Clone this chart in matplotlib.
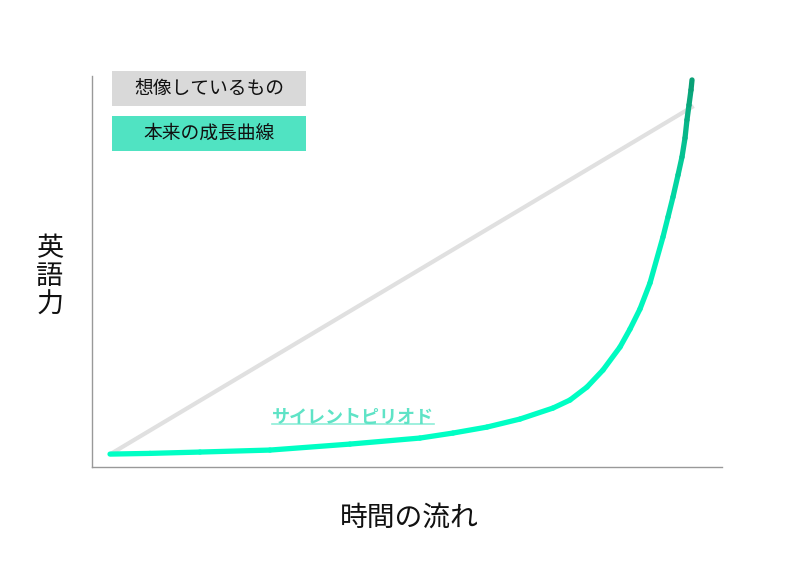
import matplotlib.pyplot as plt
import numpy as np
from matplotlib.collections import LineCollection
from matplotlib.colors import LinearSegmentedColormap
from matplotlib.patches import Rectangle

plt.rcParams['font.family'] = ['Noto Sans CJK JP', 'DejaVu Sans']

# data (time 0-100, skill 0-100)
imagined_x = [2.9, 95.5]
imagined_y = [3.3, 92.3]

real_x = [2.86, 9.2, 17.14, 28.25, 40.95, 52.06, 57.30, 62.70, 67.94, 73.17,
          75.87, 78.57, 81.11, 83.81, 85.40, 86.98, 88.57, 90.63, 91.43,
          92.22, 93.02, 93.65, 94.13, 94.44, 94.76, 95.08, 95.24]
real_y = [3.32, 3.5, 3.84, 4.35, 5.88, 7.42, 8.70, 10.23, 12.28, 15.09,
          17.14, 20.46, 24.81, 30.69, 35.29, 40.41, 47.06, 58.82, 63.94,
          69.05, 74.68, 79.28, 84.14, 88.75, 92.58, 96.42, 98.98]

legend_labels = ['想像しているもの', '本来の成長曲線']
legend_colors = ['#d9d9d9', '#50e3c2']
period_label = 'サイレントピリオド'
x_label = '時間の流れ'
y_label = '英語力'

fig = plt.figure(figsize=(8, 5.71), dpi=100)
ax = fig.add_axes([0.115, 0.182, 0.7875, 0.685])
ax.set_xlim(0, 100)
ax.set_ylim(0, 100)

# imagined straight growth
ax.plot(imagined_x, imagined_y, color='#e0e0e0', lw=3, solid_capstyle='butt', zorder=2)

# real growth curve with gradient
xs = np.array(real_x)
ys = np.array(real_y)
pts = np.column_stack([xs, ys]).reshape(-1, 1, 2)
segs = np.concatenate([pts[:-1], pts[1:]], axis=1)
cmap = LinearSegmentedColormap.from_list('grow', ['#00ffc4', '#00f2ba', '#0a9c73'])
lc = LineCollection(segs, cmap=cmap, linewidth=3.8, capstyle='round', joinstyle='round', zorder=3)
lc.set_array((ys[:-1] + ys[1:]) / 2)
lc.set_clim(15, 100)
ax.add_collection(lc)

# silent period label with underline
t = ax.text(28.6, 12.6, period_label, color='#5fe3c6', fontsize=13,
            fontweight='bold', ha='left', va='center')
fig.canvas.draw()
bb = t.get_window_extent().transformed(ax.transData.inverted())
ax.plot([bb.x0, bb.x1], [10.9, 10.9], color='#8eeed8', lw=1.2)

for s in ['top', 'right']:
    ax.spines[s].set_visible(False)
for s in ['left', 'bottom']:
    ax.spines[s].set_color('#999999')
    ax.spines[s].set_linewidth(1)
ax.set_xticks([])
ax.set_yticks([])

# legend boxes
box_bottoms = [0.8144, 0.7356]
for lab, col, b in zip(legend_labels, legend_colors, box_bottoms):
    fig.patches.append(Rectangle((0.14, b), 0.2425, 0.0613, transform=fig.transFigure,
                                 facecolor=col, edgecolor='none'))
    fig.text(0.14 + 0.2425 / 2, b + 0.0613 / 2, lab, ha='center', va='center',
             fontsize=13.5, color='#111111')

fig.text(0.0625, 0.515, '英\n語\n力', ha='center', va='center', fontsize=19.5,
         linespacing=1.05, color='#111111')
fig.text(0.512, 0.093, x_label, ha='center', va='center', fontsize=20, color='#111111')

fig.savefig('out.png', dpi=100)
